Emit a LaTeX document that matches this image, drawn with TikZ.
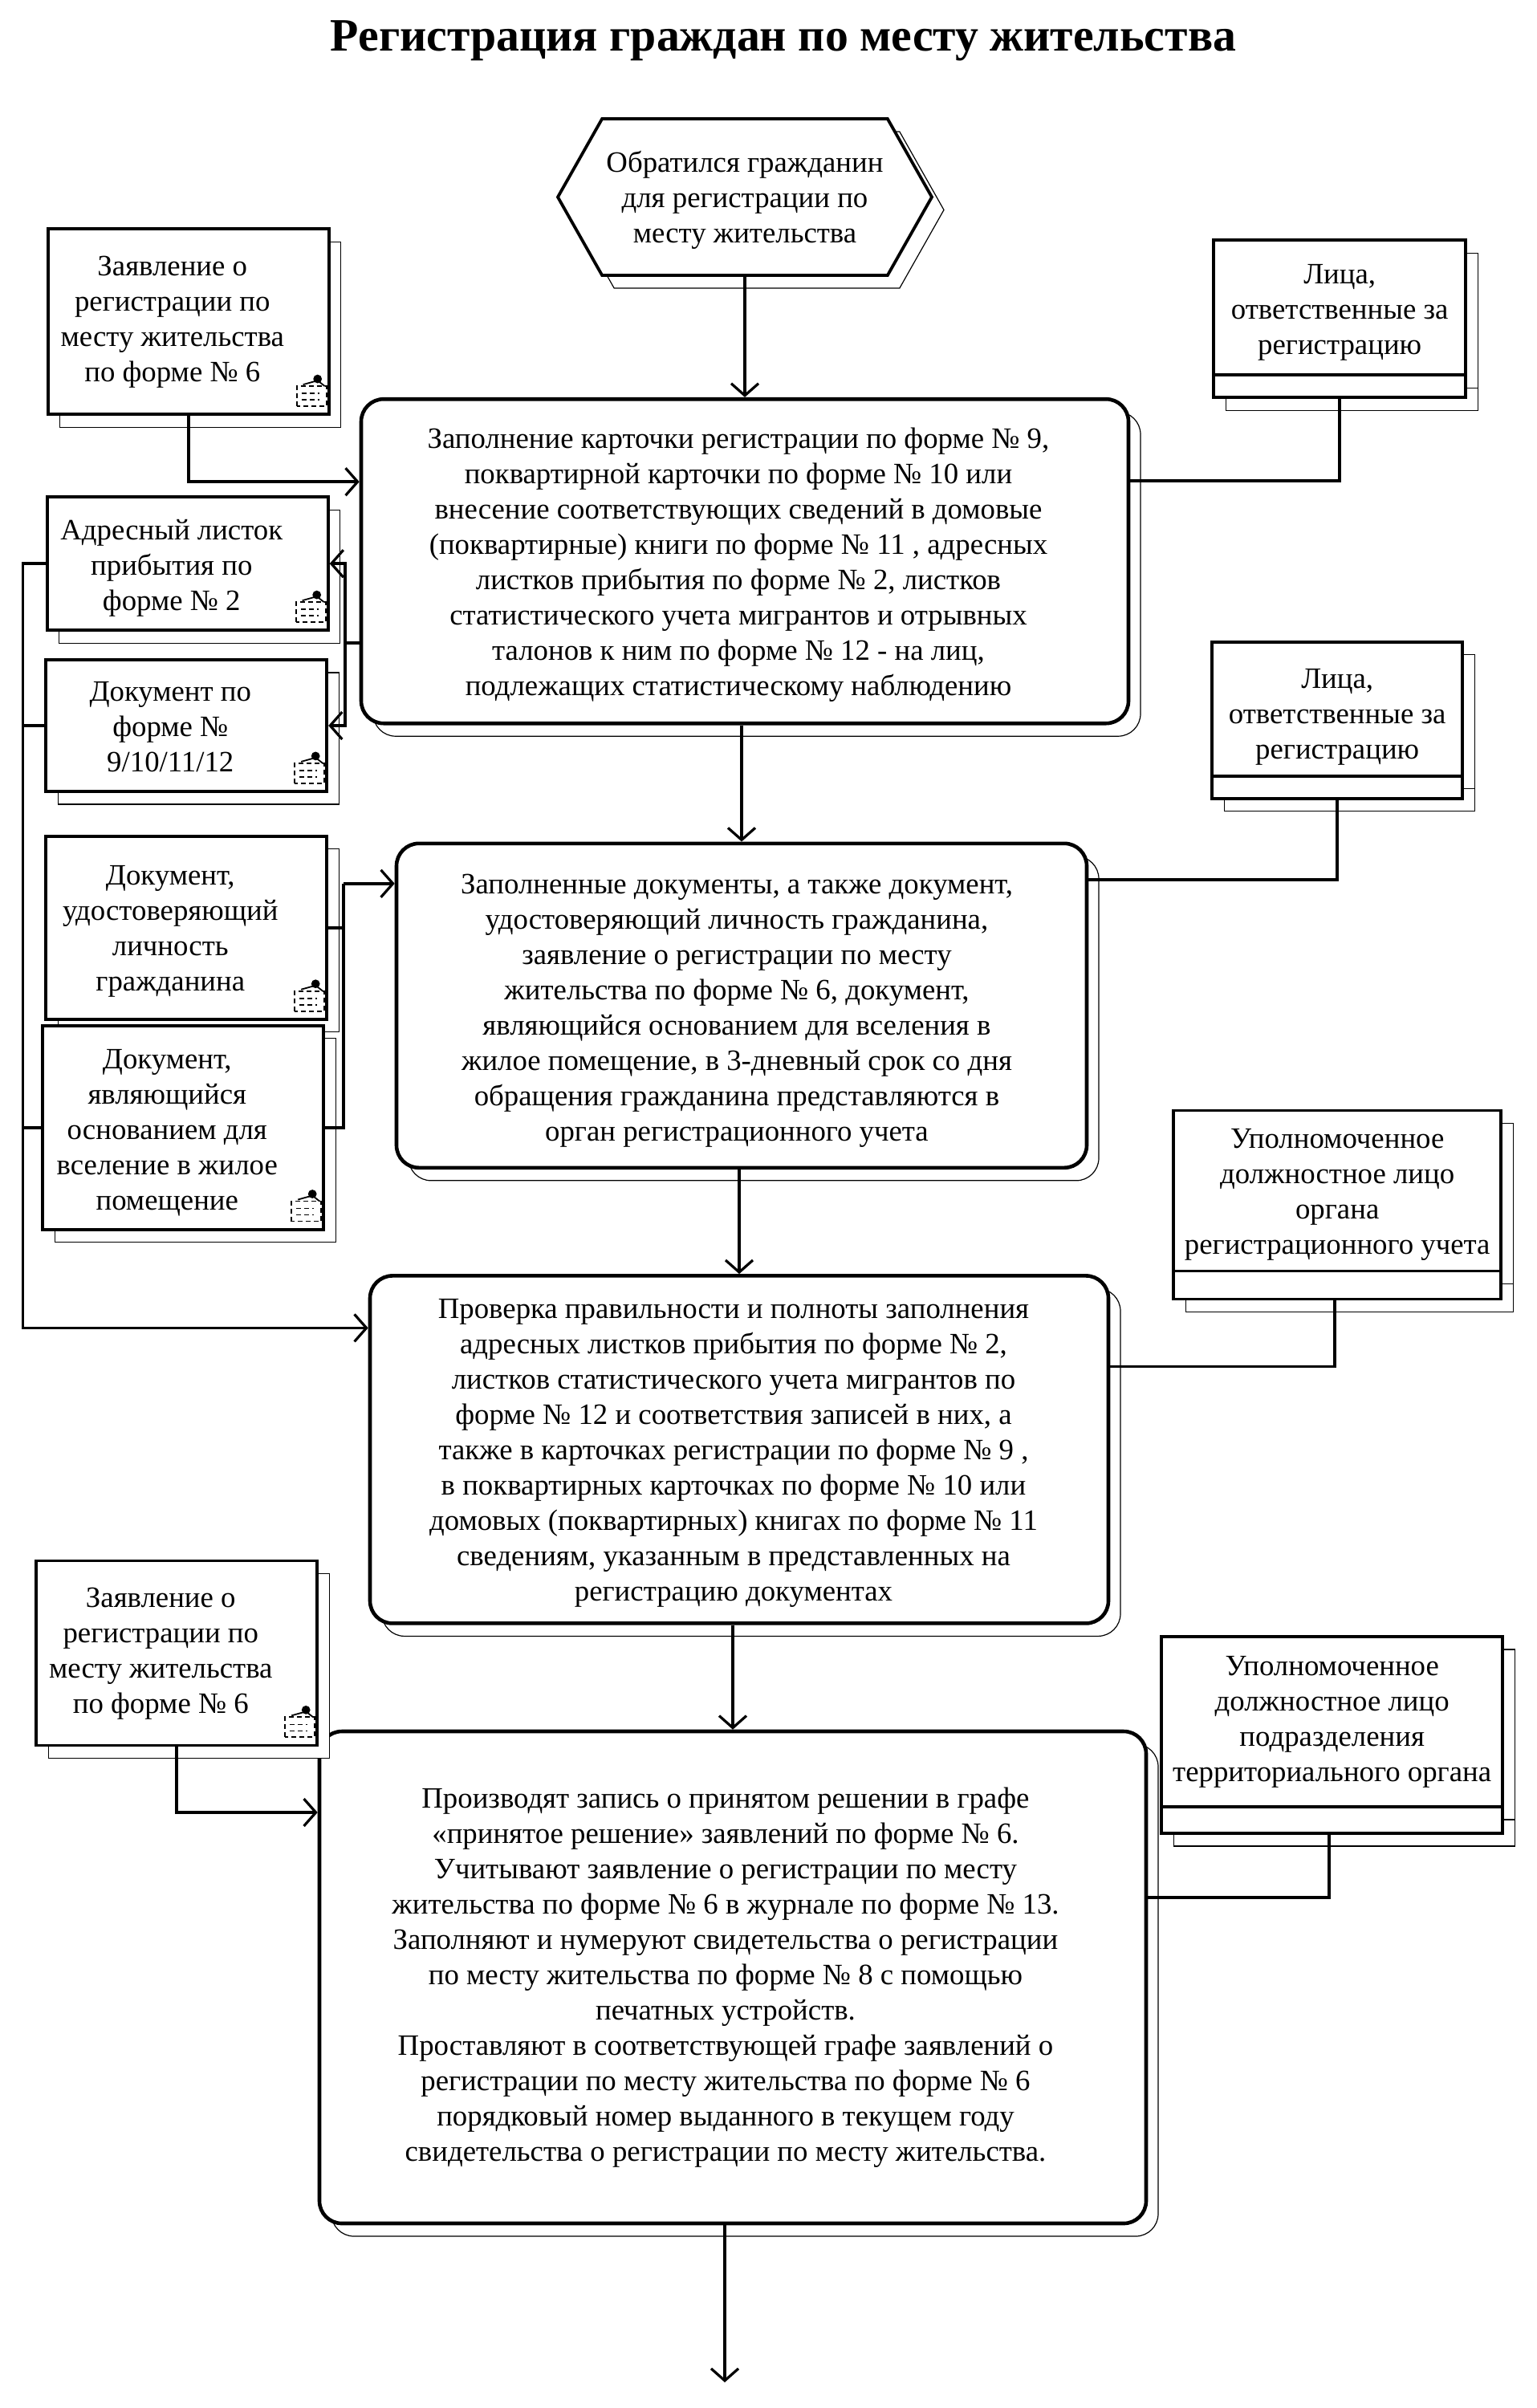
\documentclass[tikz,border=0pt]{standalone}
\usepackage{fontspec}
\setmainfont{Liberation Serif}
\usepackage{xcolor}
\usetikzlibrary{shapes, shapes.symbols, arrows.meta, positioning, calc, shadows}
% tabular moved off centre: down by the first value, left by half the second
\newcommand{\shifttext}[3]{\raisebox{-#1}[\height][\depth]{\begin{tabular}{@{}c@{}}#3\end{tabular}}\hspace{#2}}

\begin{document}
\begin{tikzpicture}[
    basetext/.style={font=\fontsize{18.4}{22}\selectfont, align=center, inner sep=0pt},
    copyshadow/.style={drop shadow={shadow xshift=7.5pt, shadow yshift=-8pt, fill=white, draw=black, line width=0.6pt, opacity=1}},
    startbox/.style={basetext, signal, signal to=west and east, signal pointer angle=121, draw, line width=1.9pt, fill=white, copyshadow, minimum width=233pt, minimum height=97.5pt},
    mainbox/.style={basetext, rectangle, draw, line width=2.3pt, fill=white, rounded corners=14pt, copyshadow},
    docbox/.style={basetext, rectangle, draw, line width=1.9pt, fill=white, copyshadow, minimum width=175pt},
    respbox/.style={basetext, rectangle, draw, line width=1.9pt, fill=white, copyshadow},
    arrow/.style={line width=1.9pt, -{Straight Barb[length=7.5pt, width=17pt, line width=1.6pt]}},
    line/.style={line width=1.9pt},
    docicon/.pic={
        \draw[line width=0.9pt, densely dashed] (-21pt,6pt) rectangle (-2.5pt,18.5pt);
        \draw[line width=0.9pt] (-17pt,19.5pt) -- (-8pt,22pt) -- (-3.5pt,18.5pt);
        \draw[line width=0.8pt, densely dashed] (-18pt,10pt) -- (-7pt,10pt) (-18pt,14pt) -- (-7pt,14pt);
        \fill (-8pt,23pt) circle (2.7pt);
    }]

    \useasboundingbox (0,0) rectangle (957.5pt,-1500pt);

    % Start
    \node[startbox] (start) at (464pt,-122.75pt) {\shifttext{2pt}{0pt}{Обратился гражданин\\ для регистрации по\\ месту жительства}};

    % Title
    \node[above=35pt of start, xshift=24pt, inner sep=0pt, font=\fontsize{28.9}{32}\selectfont\bfseries] (title) {Регистрация граждан по месту жительства};

    % Main steps
    \node[mainbox, below=75pt of start, minimum width=478pt, minimum height=202pt] (main1) {\shifttext{2pt}{8pt}{Заполнение карточки регистрации по форме № 9,\\ поквартирной карточки по форме № 10 или\\ внесение соответствующих сведений в домовые\\ (поквартирные) книги по форме № 11 , адресных\\ листков прибытия по форме  № 2, листков\\ статистического учета мигрантов и отрывных\\ талонов к ним по форме № 12 - на лиц,\\ подлежащих статистическому наблюдению}};
    \node[mainbox, below=72.5pt of main1, xshift=-2pt, minimum width=430pt, minimum height=202pt] (main2) {\shifttext{3pt}{6pt}{Заполненные документы, а также документ,\\ удостоверяющий личность гражданина,\\ заявление о регистрации по месту\\ жительства по форме № 6, документ,\\ являющийся основанием для вселения в\\ жилое помещение, в 3-дневный срок со дня\\ обращения гражданина представляются в\\ орган регистрационного учета}};
    \node[mainbox, below=65pt of main2, xshift=-1.5pt, minimum width=460pt, minimum height=216.5pt] (main3) {\shifttext{2pt}{7pt}{Проверка правильности и полноты заполнения\\ адресных листков прибытия по форме № 2,\\ листков статистического учета мигрантов по\\ форме № 12 и соответствия записей в них, а\\ также в карточках регистрации по форме № 9 ,\\ в поквартирных карточках по форме № 10 или\\ домовых (поквартирных) книгах по форме № 11\\ сведениям, указанным в представленных на\\ регистрацию документах}};
    \node[mainbox, below=65pt of main3, xshift=-4pt, minimum width=515pt, minimum height=306.5pt] (main4) {\shifttext{0pt}{9pt}{Производят запись о принятом решении в графе\\ «принятое решение» заявлений по форме № 6.\\ Учитывают заявление о регистрации по месту\\ жительства по форме № 6 в журнале по форме № 13.\\ Заполняют и нумеруют свидетельства о регистрации\\ по месту жительства по форме № 8 с помощью\\ печатных устройств.\\ Проставляют в соответствующей графе заявлений о\\ регистрации по месту жительства по форме № 6\\ порядковый номер выданного в текущем году\\ свидетельства о регистрации по месту жительства.}};

    % Documents on the left
    \node[docbox, left=18pt of main1, yshift=149.25pt, minimum height=115.5pt] (reg1) {\shifttext{0pt}{20pt}{Заявление о\\ регистрации по\\ месту жительства\\ по форме № 6}};
    \node[docbox, left=18.5pt of main1, yshift=-1.5pt, minimum height=83pt] (addr) {\shifttext{2.5pt}{20pt}{Адресный листок\\ прибытия по\\ форме № 2}};
    \node[docbox, below=16.5pt of addr, xshift=-0.75pt, minimum height=82pt] (form) {\shifttext{2.5pt}{20pt}{Документ по\\ форме №\\ 9/10/11/12}};
    \node[docbox, below=26pt of form, xshift=0pt, minimum height=114pt] (ident) {\shifttext{2pt}{20pt}{Документ,\\ удостоверяющий\\ личность\\ гражданина}};
    \node[docbox, below=2pt of ident, xshift=-2pt, minimum height=127pt] (basis) {\shifttext{3pt}{20pt}{Документ,\\ являющийся\\ основанием для\\ вселение в жилое\\ помещение}};
    \node[docbox, below=204.5pt of basis, xshift=-4pt, minimum height=115pt] (reg2) {\shifttext{0pt}{20pt}{Заявление о\\ регистрации по\\ месту жительства\\ по форме № 6}};

    \pic at (reg1.south east) {docicon};
    \pic at (addr.south east) {docicon};
    \pic at (form.south east) {docicon};
    \pic at (ident.south east) {docicon};
    \pic at (basis.south east) {docicon};
    \pic at (reg2.south east) {docicon};

    % Responsible persons on the right
    \node[respbox, right=51pt of main1, yshift=158pt, minimum width=157pt, minimum height=84pt] (resp1) {\shifttext{2.5pt}{0pt}{Лица,\\ ответственные за\\ регистрацию}};
    \node[respbox, below=-1.9pt of resp1, minimum width=157pt, minimum height=14pt] (resp1b) {};
    \node[respbox, right=76pt of main2, yshift=184.75pt, minimum width=156pt, minimum height=83.5pt] (resp2) {\shifttext{4.5pt}{0pt}{Лица,\\ ответственные за\\ регистрацию}};
    \node[respbox, below=-1.9pt of resp2, minimum width=156pt, minimum height=14pt] (resp2b) {};
    \node[respbox, right=38.5pt of main3, yshift=161.25pt, minimum width=204pt, minimum height=100pt] (auth1) {\shifttext{2pt}{0pt}{Уполномоченное\\ должностное лицо\\ органа\\ регистрационного учета}};
    \node[respbox, below=-1.9pt of auth1, minimum width=204pt, minimum height=17.5pt] (auth1b) {};
    \node[respbox, right=7.5pt of main4, yshift=159.25pt, minimum width=212.5pt, minimum height=106pt] (auth2) {\shifttext{0pt}{0pt}{Уполномоченное\\ должностное лицо\\ подразделения\\ территориального органа}};
    \node[respbox, below=-1.9pt of auth2, minimum width=212.5pt, minimum height=16.5pt] (auth2b) {};

    % Bus points and the free end
    \coordinate (lbus) at ([xshift=-11.5pt]basis.west);
    \coordinate (mbus) at ([xshift=-9pt, yshift=-51pt]main1.west);
    \coordinate (dbus) at ([xshift=-32pt, yshift=76pt]main2.west);
    \coordinate (finish) at (451.5pt,-1484pt);

    % Main flow
    \draw[arrow] (start) -- (main1);
    \draw[arrow] (main1.south -| main2.north) -- (main2.north);
    \draw[arrow] (main2.south -| main3.north) -- (main3.north);
    \draw[arrow] (main3.south -| main4.north) -- (main4.north);
    \draw[arrow] (main4.south -| finish) -- (finish);

    % Inputs and outputs
    \draw[arrow] (reg1.south) |- ([yshift=49.5pt]main1.west);
    \draw[line] ([yshift=-51pt]main1.west) -- (mbus);
    \draw[arrow] (mbus) |- (addr.east);
    \draw[arrow] (mbus) |- (form.east);
    \draw[line] (ident.east) -| (dbus);
    \draw[line] (basis.east) -| (dbus);
    \draw[arrow] (dbus) -- ([yshift=76pt]main2.west);
    \draw[arrow] (addr.west) -| (lbus) |- ([yshift=75.75pt]main3.west);
    \draw[line] (form.west) -- (form.west -| lbus);
    \draw[line] (basis.west) -- (lbus);
    \draw[arrow] (reg2.south) |- ([yshift=102.75pt]main4.west);

    % Responsible persons
    \draw[line] (resp1b.south) |- ([yshift=50pt]main1.east);
    \draw[line] (resp2b.south) |- ([yshift=78.5pt]main2.east);
    \draw[line] ([xshift=-1.5pt]auth1b.south) |- ([yshift=51.75pt]main3.east);
    \draw[line] ([xshift=-2pt]auth2b.south) |- ([yshift=49.75pt]main4.east);
\end{tikzpicture}
\end{document}
